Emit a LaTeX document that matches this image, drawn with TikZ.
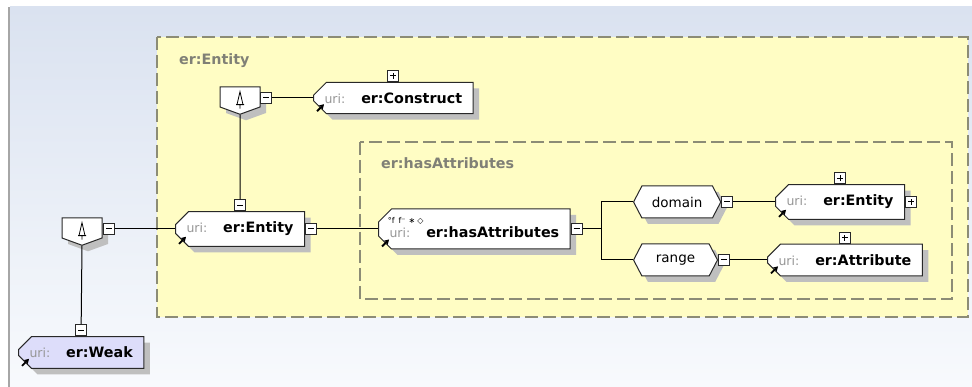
\documentclass[tikz,border=0pt]{standalone}
\usepackage{fontspec}
\setmainfont{DejaVu Sans}
\usetikzlibrary{positioning,shapes.misc,shapes.symbols,shadows,arrows.meta}

\definecolor{bgtop}{RGB}{218,226,240}
\definecolor{bgbot}{RGB}{248,250,253}
\definecolor{grpfill}{RGB}{255,253,196}
\definecolor{grpline}{RGB}{140,140,118}
\definecolor{grplabel}{RGB}{128,128,118}
\definecolor{urigray}{RGB}{150,150,150}
\definecolor{nodeline}{RGB}{40,40,40}
\definecolor{weakfill}{RGB}{221,221,250}

\newcommand{\uritext}[1]{{\color{urigray}\fontsize{12.5}{14}\selectfont uri:}\hspace{16pt}{\bfseries\fontsize{14.3}{16}\selectfont #1}}

\tikzset{
  conn/.style={draw=black, line width=1pt},
  uriarrow/.style={black, line width=1.8pt, -{Stealth[length=5pt,width=6pt]}},
  groupbox/.style={draw=grpline, fill=grpfill, line width=1.3pt, dash pattern=on 13pt off 5pt},
  grouplabel/.style={anchor=west, text=grplabel, font=\bfseries\fontsize{14.3}{16}\selectfont, inner sep=0pt},
  dropshade/.style={drop shadow={shadow xshift=6pt, shadow yshift=-6pt, fill=black!25, opacity=1}},
  elem/.style={chamfered rectangle, chamfered rectangle corners={north west,south west},
    chamfered rectangle xsep=6pt, chamfered rectangle ysep=7pt,
    draw=nodeline, line width=1pt, fill=white, minimum height=30pt,
    inner xsep=5pt, anchor=west, dropshade},
  facet/.style={signal, signal to=west and east, signal pointer angle=125,
    draw=nodeline, line width=1pt, fill=white, minimum height=32pt, inner xsep=10pt,
    font=\fontsize{13.5}{16}\selectfont, anchor=west, dropshade},
  choice/.style={signal, signal to=south, signal from=nowhere, signal pointer angle=140,
    draw=nodeline, line width=1pt, fill=white, minimum width=40pt, minimum height=20pt,
    inner sep=0pt, dropshade,
    path picture={\draw[black, line width=.8pt]
      ([shift={(0pt,9pt)}]path picture bounding box.center) -- ++(-3pt,-13pt) -- ++(6pt,0pt) -- cycle
      ([shift={(-4pt,-4pt)}]path picture bounding box.center) -- ++(8pt,0pt)
      ([shift={(0pt,-4pt)}]path picture bounding box.center) -- ++(0pt,-4pt);}},
  minusbox/.style={rectangle, draw=nodeline, line width=.9pt, fill=white, minimum size=11pt, inner sep=0pt,
    path picture={\draw[black, line width=1pt] ([xshift=-3pt]path picture bounding box.center) -- ++(6pt,0pt);}},
  plusbox/.style={minusbox,
    path picture={\draw[black, line width=1pt] ([xshift=-3pt]path picture bounding box.center) -- ++(6pt,0pt)
      ([yshift=-3pt]path picture bounding box.center) -- ++(0pt,6pt);}},
}

\begin{document}
\begin{tikzpicture}[x=1pt,y=1pt]
\useasboundingbox (0,0) rectangle (972,387);

% background
\shade[top color=bgtop, bottom color=bgbot] (10,0) rectangle (972,380);
\draw[gray!70, line width=1.5pt] (9,0) -- (9,380);

% groups
\draw[groupbox] (157,350) rectangle (968,70);
\node[grouplabel] (lblent) at (179,326) {er:Entity};
\draw[groupbox] (360,245) rectangle (952,88);
\node[grouplabel] (lblhas) at (381,224) {er:hasAttributes};

% left sequence
\node[choice] (cho0) at (82,159) {};
\node[minusbox] (cho0m) at (109,158) {};
\node[elem, fill=weakfill] (weak) at (18,34.5) {\uritext{er:Weak}};
\node[minusbox, above=0pt of weak] (weakm) {};

% er:Entity content
\node[elem] (ent) at (175,158) {\uritext{er:Entity}};
\node[minusbox, above=0pt of ent] (entmt) {};
\node[minusbox, right=0pt of ent] (entm) {};

\node[choice] (cho1) at (240,290) {};
\node[minusbox] (cho1m) at (266,289) {};
\node[elem] (con) at (313,289) {\uritext{er:Construct}\hspace{7pt}};
\node[plusbox, above=0pt of con] (conp) {};

% er:hasAttributes content
\node[elem, minimum height=40pt] (has) at (378,158) {\rule{0pt}{17pt}\uritext{er:hasAttributes}\hspace{10pt}};
\node[anchor=north west, inner sep=0pt, font=\fontsize{8}{9}\selectfont] (hasicons) at ([shift={(3pt,-2pt)}]has.north west) {°f\hspace{4pt}f⁻\hspace{3pt}∗\hspace{2pt}◇};
\node[minusbox, right=0pt of has] (hasm) {};

\node[facet] (dom) at (633,185) {domain};
\node[minusbox, right=0pt of dom] (domm) {};
\node[elem] (dent) at (775,185) {\uritext{er:Entity}};
\node[plusbox, right=0pt of dent] (dentp) {};
\node[plusbox, above=0pt of dent] (dentpt) {};

\node[facet, inner xsep=14pt] (rng) at (633,127) {range};
\node[minusbox, right=0pt of rng] (rngm) {};
\node[elem] (attr) at (767,127) {\uritext{er:Attribute}\hspace{5pt}};
\node[plusbox, above=0pt of attr] (attrp) {};

% uri arrows
\foreach \n in {weak,ent,con,has,dent,attr}
  \draw[uriarrow] ([shift={(4pt,3pt)}]\n.west |- \n.south) -- ++(7pt,7pt);

% connectors
\draw[conn] (cho0m.east) -- (cho0m.east -| ent.west);
\draw[conn] (cho0.south) -- (weakm.north);
\draw[conn] (cho1.south) -- (entmt.north);
\draw[conn] (cho1m.east) -- (cho1m.east -| con.west);
\draw[conn] (entm.east) -- (entm.east -| has.west);
\draw[conn] (hasm.east) -- ++(19pt,0) |- (dom.west);
\draw[conn] (hasm.east) -- ++(19pt,0) |- (rng.west);
\draw[conn] (domm.east) -- (domm.east -| dent.west);
\draw[conn] (rngm.east) -- (rngm.east -| attr.west);

\end{tikzpicture}
\end{document}
